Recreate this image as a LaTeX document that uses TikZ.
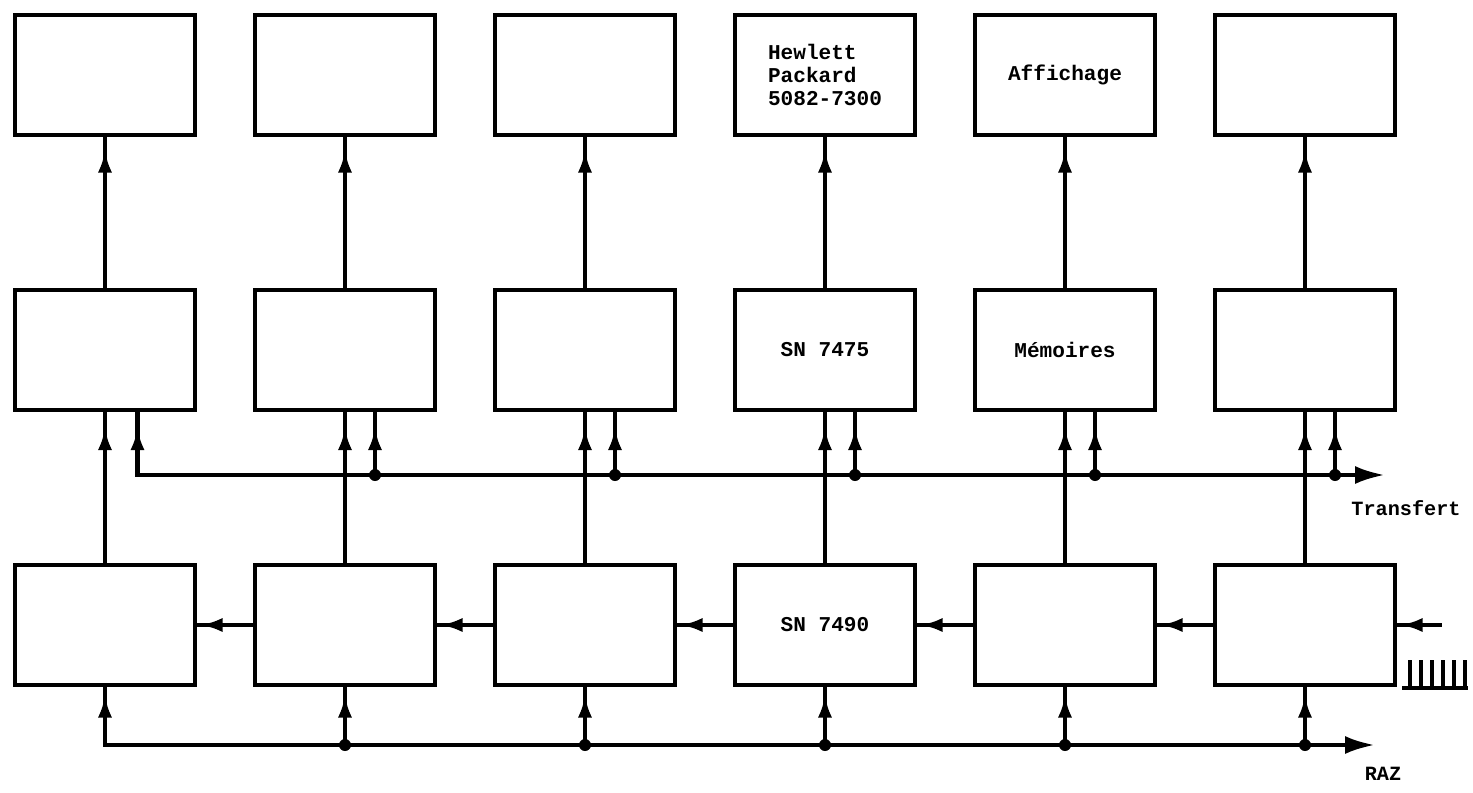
\documentclass[tikz,border=0pt]{standalone}
\usepackage{fontspec}
\setmonofont{Liberation Mono}
\usepackage{tikz}
\usetikzlibrary{arrows.meta, positioning, decorations.markings}

\begin{document}
\begin{tikzpicture}[node distance=3.1cm and 1.2cm,
                box/.style={rectangle, draw, line width=2.8pt, outer sep=0pt, minimum width=3.6cm, minimum height=2.4cm, align=left, inner sep=0pt, font=\ttfamily\bfseries\fontsize{12}{13}\selectfont},
                wire/.style={line width=2.4pt, line cap=rect},
                arrow/.style={wire, postaction={decorate}, decoration={markings, mark=at position #1 with {\arrow{Latex[length=4.5mm, width=2.8mm]}}}},
                arrow/.default=-0.3cm,
                bus/.style={wire, -{Latex[length=6mm, width=3.6mm]}},
                dot/.style={circle, fill, inner sep=0pt, minimum size=2.4mm},
                busname/.style={font=\ttfamily\bfseries\fontsize{11.5}{12.5}\selectfont}]

            \useasboundingbox (0,0) rectangle (29.46,-15.84);

            % Affichage
            \node[box] (disp1) at (2.1,-1.5) {};
            \node[box, right=of disp1] (disp2) {};
            \node[box, right=of disp2] (disp3) {};
            \node[box, right=of disp3] (disp4) {Hewlett\\Packard\\5082-7300};
            \node[box, right=of disp4] (disp5) {Affichage};
            \node[box, right=of disp5] (disp6) {};

            % Memoires
            \node[box, below=of disp1] (mem1) {};
            \node[box, below=of disp2] (mem2) {};
            \node[box, below=of disp3] (mem3) {};
            \node[box, below=of disp4] (mem4) {SN 7475};
            \node[box, below=of disp5] (mem5) {Mémoires};
            \node[box, below=of disp6] (mem6) {};

            % Compteurs
            \node[box, below=of mem1] (cnt1) {};
            \node[box, below=of mem2] (cnt2) {};
            \node[box, below=of mem3] (cnt3) {};
            \node[box, below=of mem4] (cnt4) {SN 7490};
            \node[box, below=of mem5] (cnt5) {};
            \node[box, below=of mem6] (cnt6) {};

            % Bus points
            \coordinate (tr1) at ([xshift=0.65cm, yshift=-1.3cm]mem1.south);
            \coordinate (tr2) at ([xshift=0.6cm, yshift=-1.3cm]mem2.south);
            \coordinate (tr3) at ([xshift=0.6cm, yshift=-1.3cm]mem3.south);
            \coordinate (tr4) at ([xshift=0.6cm, yshift=-1.3cm]mem4.south);
            \coordinate (tr5) at ([xshift=0.6cm, yshift=-1.3cm]mem5.south);
            \coordinate (tr6) at ([xshift=0.6cm, yshift=-1.3cm]mem6.south);
            \coordinate (trEnd) at ([xshift=1.0cm]tr6);

            \coordinate (raz1) at ([yshift=-1.2cm]cnt1.south);
            \coordinate (raz2) at ([yshift=-1.2cm]cnt2.south);
            \coordinate (raz3) at ([yshift=-1.2cm]cnt3.south);
            \coordinate (raz4) at ([yshift=-1.2cm]cnt4.south);
            \coordinate (raz5) at ([yshift=-1.2cm]cnt5.south);
            \coordinate (raz6) at ([yshift=-1.2cm]cnt6.south);
            \coordinate (razEnd) at ([xshift=1.4cm]raz6);

            \coordinate (clk) at ([xshift=0.9cm]cnt6.east);
            \coordinate (pulse) at ([xshift=0.14cm, yshift=-0.06cm]cnt6.south east);

            % Sorties vers l'affichage
            \draw[arrow] (mem1) -- (disp1);
            \draw[arrow] (mem2) -- (disp2);
            \draw[arrow] (mem3) -- (disp3);
            \draw[arrow] (mem4) -- (disp4);
            \draw[arrow] (mem5) -- (disp5);
            \draw[arrow] (mem6) -- (disp6);

            % Compteurs vers memoires
            \draw[arrow=-0.35cm] (cnt1) -- (mem1);
            \draw[arrow=-0.35cm] (cnt2) -- (mem2);
            \draw[arrow=-0.35cm] (cnt3) -- (mem3);
            \draw[arrow=-0.35cm] (cnt4) -- (mem4);
            \draw[arrow=-0.35cm] (cnt5) -- (mem5);
            \draw[arrow=-0.35cm] (cnt6) -- (mem6);

            % Transfert
            \draw[bus] (tr1) -- (trEnd);
            \draw[arrow=-0.35cm] (tr1) -- (tr1 |- mem1.south);
            \draw[arrow=-0.35cm] (tr2) -- (tr2 |- mem2.south);
            \draw[arrow=-0.35cm] (tr3) -- (tr3 |- mem3.south);
            \draw[arrow=-0.35cm] (tr4) -- (tr4 |- mem4.south);
            \draw[arrow=-0.35cm] (tr5) -- (tr5 |- mem5.south);
            \draw[arrow=-0.35cm] (tr6) -- (tr6 |- mem6.south);
            \node[dot] at (tr2) {};
            \node[dot] at (tr3) {};
            \node[dot] at (tr4) {};
            \node[dot] at (tr5) {};
            \node[dot] at (tr6) {};
            \node[busname] (trname) at ([xshift=0.42cm, yshift=-0.66cm]trEnd) {Transfert};

            % Comptage
            \draw[arrow=-0.1cm] (clk) -- (cnt6);
            \draw[arrow=-0.1cm] (cnt6) -- (cnt5);
            \draw[arrow=-0.1cm] (cnt5) -- (cnt4);
            \draw[arrow=-0.1cm] (cnt4) -- (cnt3);
            \draw[arrow=-0.1cm] (cnt3) -- (cnt2);
            \draw[arrow=-0.1cm] (cnt2) -- (cnt1);

            % Impulsions
            \draw[line width=2pt] (pulse) -- ++(1.32,0);
            \foreach \i in {0,...,5}
                \draw[line width=2pt] ([xshift=0.16cm+\i*0.22cm]pulse) -- ++(0,0.56);

            % RAZ
            \draw[bus] (raz1) -- (razEnd);
            \draw[arrow=-0.2cm] (raz1) -- (cnt1);
            \draw[arrow=-0.2cm] (raz2) -- (cnt2);
            \draw[arrow=-0.2cm] (raz3) -- (cnt3);
            \draw[arrow=-0.2cm] (raz4) -- (cnt4);
            \draw[arrow=-0.2cm] (raz5) -- (cnt5);
            \draw[arrow=-0.2cm] (raz6) -- (cnt6);
            \node[dot] at (raz2) {};
            \node[dot] at (raz3) {};
            \node[dot] at (raz4) {};
            \node[dot] at (raz5) {};
            \node[dot] at (raz6) {};
            \node[busname] (razname) at ([xshift=0.16cm, yshift=-0.58cm]razEnd) {RAZ};

        \end{tikzpicture}
\end{document}
